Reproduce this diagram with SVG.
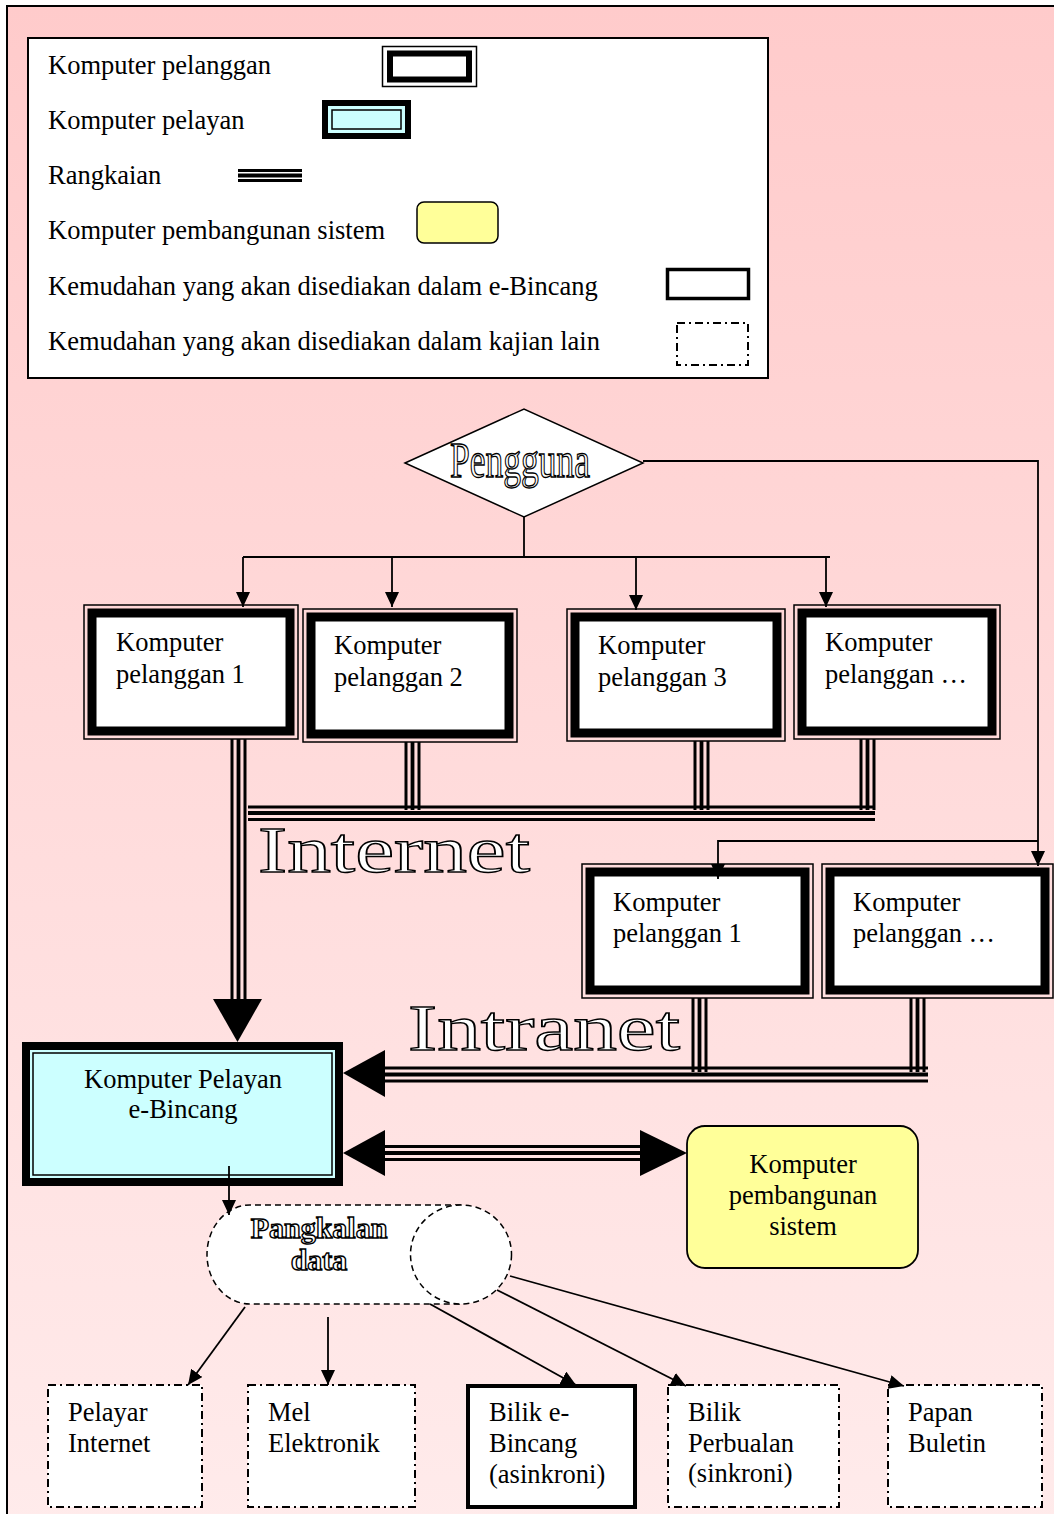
<svg xmlns="http://www.w3.org/2000/svg" width="1054" height="1514" viewBox="0 0 1054 1514">
<defs>
<linearGradient id="bg" x1="0" y1="0" x2="0" y2="1">
<stop offset="0" stop-color="#FFCBCB"/>
<stop offset="1" stop-color="#FFEBEB"/>
</linearGradient>
<marker id="ah" markerUnits="userSpaceOnUse" markerWidth="15" markerHeight="14" viewBox="0 0 15 14" refX="15" refY="7" orient="auto">
<path d="M0,0 L15,7 L0,14 z" fill="#000"/>
</marker>
<style>
.t{font-family:"Liberation Serif","Times New Roman",serif;font-size:26.5px;fill:#000}
.c{text-anchor:middle}
.thin{fill:none;stroke:#000;stroke-width:1.5}
.band{fill:#fff;stroke:#000;stroke-width:9}
.conn{fill:none;stroke:#000;stroke-width:1.8}
.dd{fill:#fff;stroke:#000;stroke-width:2;stroke-dasharray:8 4 2 4}
.net{stroke:#000;stroke-width:3;fill:none}
.netm{stroke:#000;stroke-width:3.8;fill:none}
.out{font-family:"Liberation Serif","Times New Roman",serif;fill:#fff;stroke:#000;stroke-width:1.4}
.big{fill:#000}
</style>
</defs>

<rect x="0" y="0" width="1054" height="1514" fill="#fff"/>
<rect x="7" y="6" width="1060" height="1520" fill="url(#bg)" stroke="#000" stroke-width="2"/>

<g id="legend">
<rect x="28" y="38" width="740" height="340" fill="#fff" stroke="#000" stroke-width="2"/>
<text class="t" x="48" y="74">Komputer pelanggan</text>
<text class="t" x="48" y="129">Komputer pelayan</text>
<text class="t" x="48" y="184">Rangkaian</text>
<text class="t" x="48" y="239">Komputer pembangunan sistem</text>
<text class="t" x="48" y="295">Kemudahan yang akan disediakan dalam e-Bincang</text>
<text class="t" x="48" y="350">Kemudahan yang akan disediakan dalam kajian lain</text>
<rect class="thin" x="382.5" y="46.5" width="94" height="40"/>
<rect x="390" y="53.5" width="79" height="26" fill="#fff" stroke="#000" stroke-width="6"/>
<rect x="322" y="100" width="89" height="39" fill="#000"/>
<rect x="328" y="106" width="77" height="27" fill="#CCFFFF"/>
<rect x="332" y="110" width="69" height="19" fill="#CCFFFF" stroke="#000" stroke-width="1.5"/>
<line class="net" x1="238" y1="170.5" x2="302" y2="170.5"/>
<line class="netm" x1="238" y1="175.5" x2="302" y2="175.5"/>
<line class="net" x1="238" y1="180.5" x2="302" y2="180.5"/>
<rect x="417" y="202" width="81" height="41" rx="7" fill="#FFFF99" stroke="#000" stroke-width="1.5"/>
<rect x="667.5" y="269.5" width="81" height="29" fill="#fff" stroke="#000" stroke-width="3.5"/>
<rect class="dd" x="677" y="323" width="71" height="42" stroke-width="1.6"/>
</g>

<g id="pengguna">
<polygon points="405,463 524,409 643,463 524,517" fill="#fff" stroke="#000" stroke-width="1.5"/>
<text class="out" x="450" y="477" font-size="50" textLength="140" lengthAdjust="spacingAndGlyphs" stroke-width="1.2">Pengguna</text>
</g>

<g id="pelanggan1">
<rect class="thin" x="84" y="605" width="214" height="134"/>
<rect class="band" x="92" y="613" width="198" height="118"/>
<text class="t" x="116" y="651">Komputer</text>
<text class="t" x="116" y="683">pelanggan 1</text>
</g>
<g id="pelanggan2">
<rect class="thin" x="303" y="609" width="214" height="133"/>
<rect class="band" x="311" y="617" width="198" height="117"/>
<text class="t" x="334" y="654">Komputer</text>
<text class="t" x="334" y="686">pelanggan 2</text>
</g>
<g id="pelanggan3">
<rect class="thin" x="567" y="609" width="218" height="132"/>
<rect class="band" x="575" y="617" width="202" height="116"/>
<text class="t" x="598" y="654">Komputer</text>
<text class="t" x="598" y="686">pelanggan 3</text>
</g>
<g id="pelanggan4">
<rect class="thin" x="794" y="605" width="206" height="134"/>
<rect class="band" x="802" y="613" width="190" height="118"/>
<text class="t" x="825" y="651">Komputer</text>
<text class="t" x="825" y="683">pelanggan …</text>
</g>

<g id="internet-label">
<text class="out" x="258" y="872" font-size="65" textLength="272" lengthAdjust="spacingAndGlyphs">Internet</text>
</g>

<g id="intranet1">
<rect class="thin" x="582" y="864" width="231" height="134"/>
<rect class="band" x="590" y="872" width="215" height="118"/>
<text class="t" x="613" y="911">Komputer</text>
<text class="t" x="613" y="942">pelanggan 1</text>
</g>
<g id="intranet2">
<rect class="thin" x="822" y="864" width="231" height="134"/>
<rect class="band" x="830" y="872" width="215" height="118"/>
<text class="t" x="853" y="911">Komputer</text>
<text class="t" x="853" y="942">pelanggan …</text>
</g>

<g id="intranet-label">
<text class="out" x="408" y="1050" font-size="65" textLength="272" lengthAdjust="spacingAndGlyphs">Intranet</text>
</g>

<g id="server">
<rect x="22" y="1042" width="321" height="144" fill="#000"/>
<rect x="30" y="1050" width="305" height="128" fill="#CCFFFF"/>
<rect x="33" y="1053" width="299" height="122" fill="#CCFFFF" stroke="#000" stroke-width="1.5"/>
<text class="t c" x="183" y="1088">Komputer Pelayan</text>
<text class="t c" x="183" y="1118">e-Bincang</text>
</g>

<g id="pembangunan">
<rect x="687" y="1126" width="231" height="142" rx="18" fill="#FFFF99" stroke="#000" stroke-width="1.8"/>
<text class="t c" x="803" y="1173">Komputer</text>
<text class="t c" x="803" y="1204">pembangunan</text>
<text class="t c" x="803" y="1235">sistem</text>
</g>

<g id="pangkalan">
<path d="M461,1205 L250,1205 A43,49.5 0 0 0 250,1304 L461,1304" fill="#fff" stroke="#000" stroke-width="1.5" stroke-dasharray="6 4"/>
<ellipse cx="461" cy="1254.5" rx="50.5" ry="49.5" fill="#fff" stroke="#000" stroke-width="1.5" stroke-dasharray="6 4"/>
<text class="out c" x="319" y="1238" font-size="30" font-weight="bold" stroke-width="1">Pangkalan</text>
<text class="out c" x="319" y="1270" font-size="30" font-weight="bold" stroke-width="1">data</text>
</g>

<g id="pelayar">
<rect class="dd" x="48" y="1385" width="154" height="122"/>
<text class="t" x="68" y="1421">Pelayar</text>
<text class="t" x="68" y="1452">Internet</text>
</g>
<g id="mel">
<rect class="dd" x="248" y="1385" width="167" height="122"/>
<text class="t" x="268" y="1421">Mel</text>
<text class="t" x="268" y="1452">Elektronik</text>
</g>
<g id="bilik-ebincang">
<rect x="468" y="1386" width="167" height="121" fill="#fff" stroke="#000" stroke-width="4"/>
<text class="t" x="489" y="1421">Bilik e-</text>
<text class="t" x="489" y="1452">Bincang</text>
<text class="t" x="489" y="1483">(asinkroni)</text>
</g>
<g id="bilik-perbualan">
<rect class="dd" x="668" y="1385" width="171" height="122"/>
<text class="t" x="688" y="1421">Bilik</text>
<text class="t" x="688" y="1452">Perbualan</text>
<text class="t" x="688" y="1482">(sinkroni)</text>
</g>
<g id="papan">
<rect class="dd" x="888" y="1385" width="154" height="122"/>
<text class="t" x="908" y="1421">Papan</text>
<text class="t" x="908" y="1452">Buletin</text>
</g>

<g id="connectors">
<path class="conn" d="M524,517 V557"/>
<path class="conn" d="M243,557 H830"/>
<path class="conn" d="M243,557 V607" marker-end="url(#ah)"/>
<path class="conn" d="M392,557 V607" marker-end="url(#ah)"/>
<path class="conn" d="M636,557 V610" marker-end="url(#ah)"/>
<path class="conn" d="M826,557 V607" marker-end="url(#ah)"/>
<path class="conn" d="M643,461 H1038 V866" marker-end="url(#ah)"/>
<path class="conn" d="M1038,841 H718 V879" marker-end="url(#ah)"/>

<line class="net" x1="232" y1="739" x2="232" y2="1002"/>
<line class="netm" x1="238.5" y1="739" x2="238.5" y2="1002"/>
<line class="net" x1="245" y1="739" x2="245" y2="1002"/>
<polygon class="big" points="213,999 262,999 237.5,1042"/>

<line class="net" x1="406" y1="742" x2="406" y2="810"/>
<line class="netm" x1="412.5" y1="742" x2="412.5" y2="810"/>
<line class="net" x1="419" y1="742" x2="419" y2="810"/>
<line class="net" x1="695" y1="741" x2="695" y2="810"/>
<line class="netm" x1="701.5" y1="741" x2="701.5" y2="810"/>
<line class="net" x1="708" y1="741" x2="708" y2="810"/>
<line class="net" x1="861" y1="739" x2="861" y2="810"/>
<line class="netm" x1="867.5" y1="739" x2="867.5" y2="810"/>
<line class="net" x1="874" y1="739" x2="874" y2="810"/>
<line class="net" x1="248" y1="807" x2="875" y2="807"/>
<line class="netm" x1="248" y1="813" x2="875" y2="813"/>
<line class="net" x1="248" y1="819.5" x2="875" y2="819.5"/>

<line class="net" x1="693" y1="998" x2="693" y2="1072"/>
<line class="netm" x1="699.5" y1="998" x2="699.5" y2="1072"/>
<line class="net" x1="706" y1="998" x2="706" y2="1072"/>
<line class="net" x1="911" y1="998" x2="911" y2="1072"/>
<line class="netm" x1="917.5" y1="998" x2="917.5" y2="1072"/>
<line class="net" x1="924" y1="998" x2="924" y2="1072"/>
<line class="net" x1="380" y1="1068" x2="928" y2="1068"/>
<line class="netm" x1="380" y1="1074.5" x2="928" y2="1074.5"/>
<line class="net" x1="380" y1="1081" x2="928" y2="1081"/>
<polygon class="big" points="343,1073 385,1050 385,1097"/>

<line class="net" x1="380" y1="1146.5" x2="645" y2="1146.5"/>
<line class="netm" x1="380" y1="1153" x2="645" y2="1153"/>
<line class="net" x1="380" y1="1159.5" x2="645" y2="1159.5"/>
<polygon class="big" points="343,1153 385,1130 385,1176"/>
<polygon class="big" points="687,1153 640,1130 640,1176"/>

<path class="conn" d="M229,1166 V1215" marker-end="url(#ah)"/>
<path class="conn" d="M245,1307 L188,1385" marker-end="url(#ah)"/>
<path class="conn" d="M328,1317 V1385" marker-end="url(#ah)"/>
<path class="conn" d="M430,1304 L576,1385" marker-end="url(#ah)"/>
<path class="conn" d="M497,1290 L686,1386" marker-end="url(#ah)"/>
<path class="conn" d="M510,1276 L904,1386" marker-end="url(#ah)"/>
</g>
</svg>
